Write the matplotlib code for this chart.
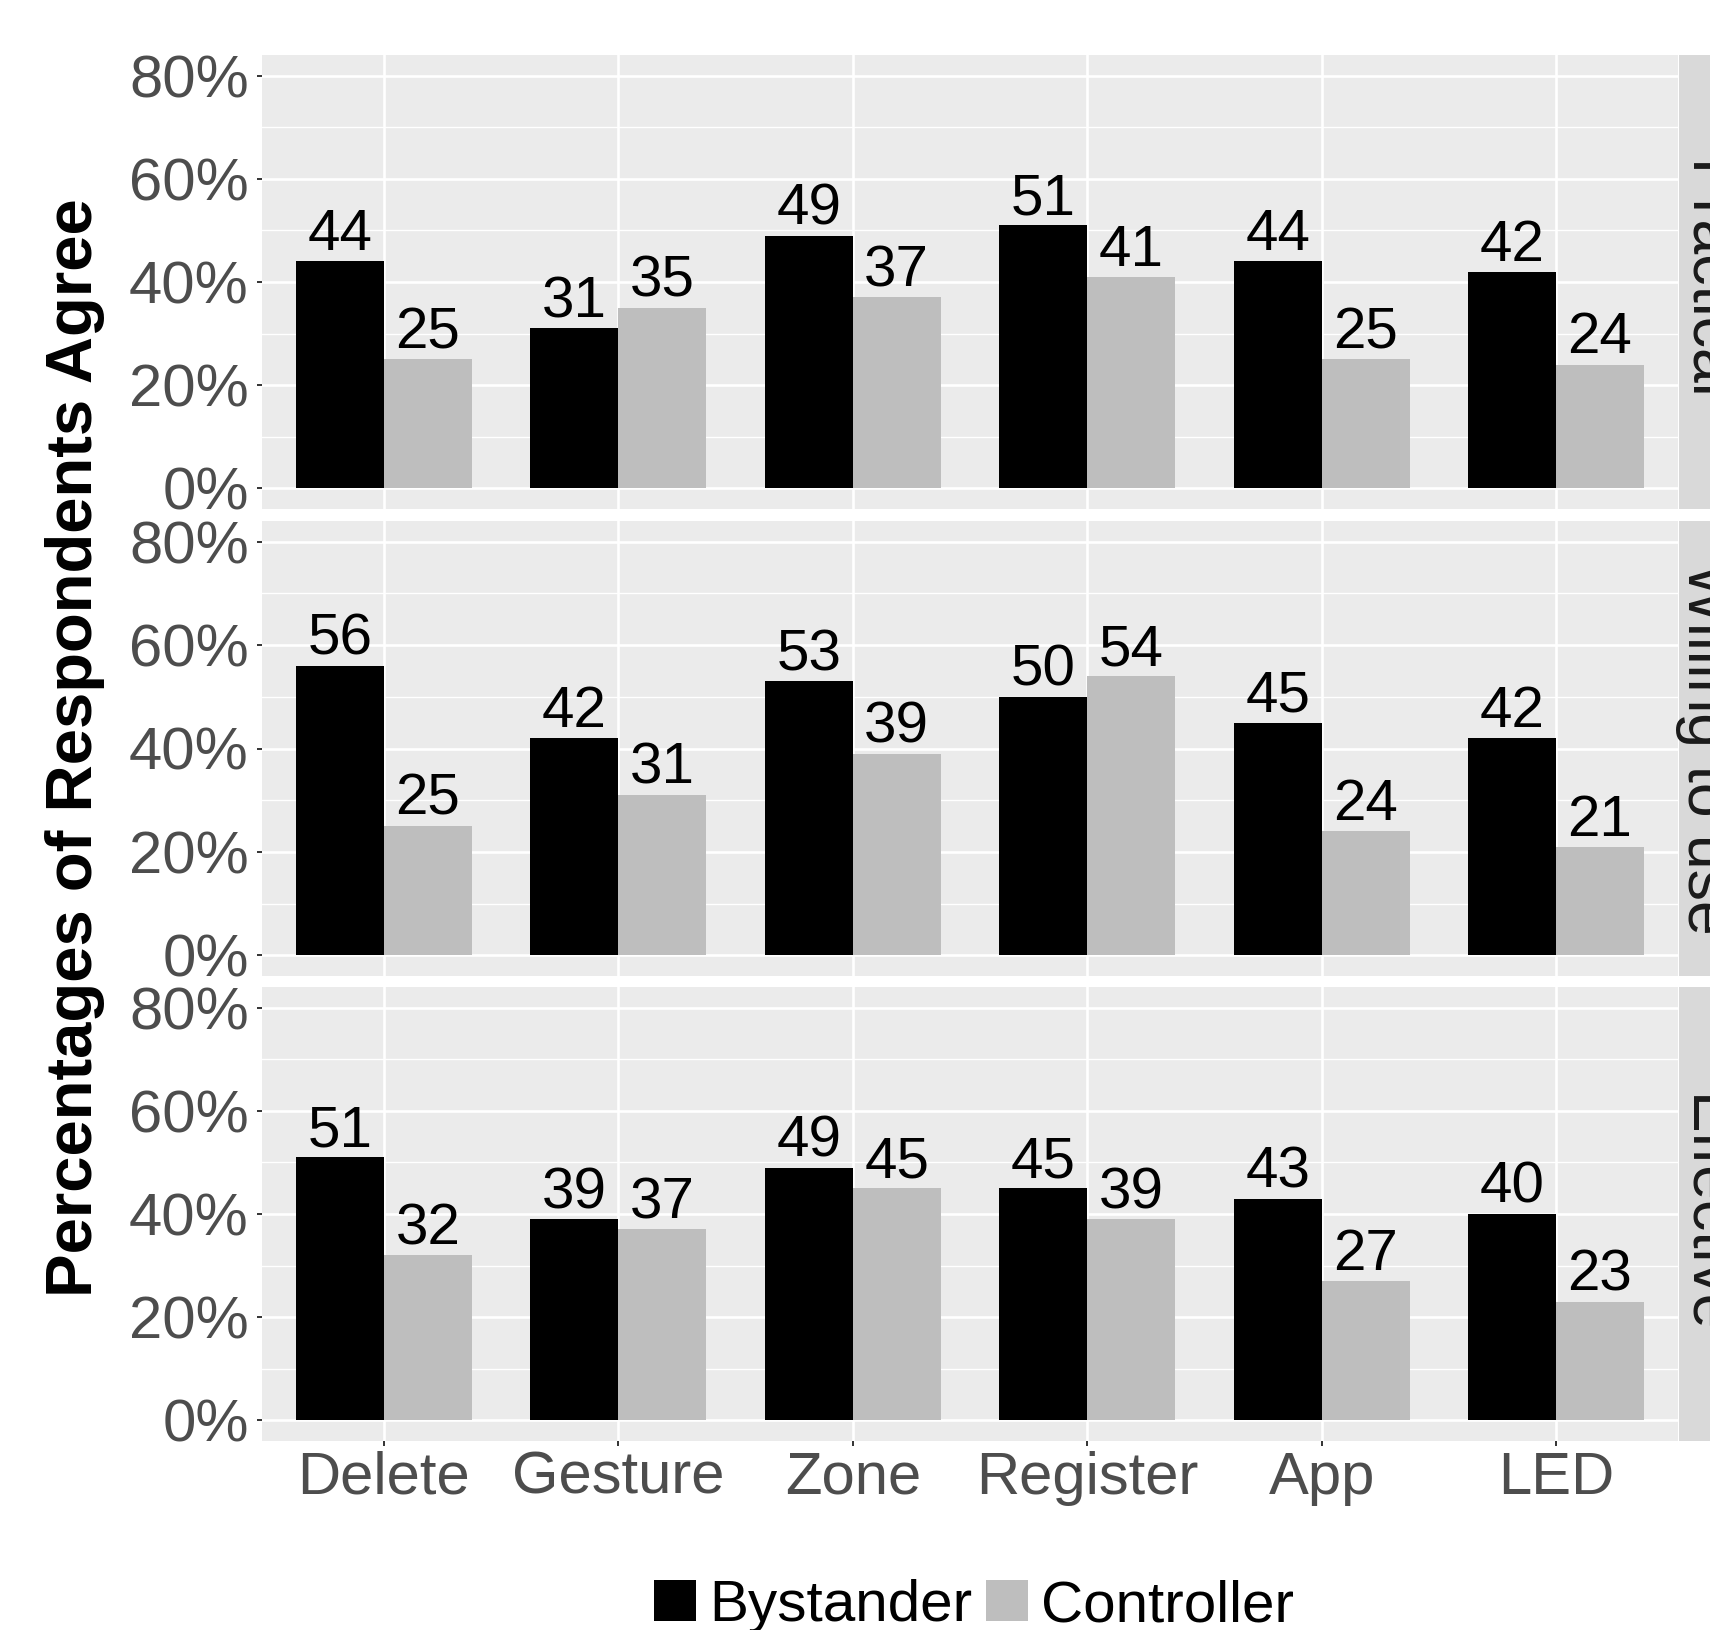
import numpy as np
import matplotlib.pyplot as plt
from matplotlib.patches import Patch

plt.rcParams['font.family'] = ['Liberation Sans', 'DejaVu Sans']

# ==========================================
# Data (percent of respondents who agree)
# ==========================================
categories = ['Delete', 'Gesture', 'Zone', 'Register', 'App', 'LED']
panels = ['Practical', 'Willing to use', 'Effective']

bystander_practical = [44, 31, 49, 51, 44, 42]
controller_practical = [25, 35, 37, 41, 25, 24]
bystander_willing = [56, 42, 53, 50, 45, 42]
controller_willing = [25, 31, 39, 54, 24, 21]
bystander_effective = [51, 39, 49, 45, 43, 40]
controller_effective = [32, 37, 45, 39, 27, 23]

bystander = [bystander_practical, bystander_willing, bystander_effective]
controller = [controller_practical, controller_willing, controller_effective]

y_ticks = [0, 20, 40, 60, 80]
y_tick_labels = ['0%', '20%', '40%', '60%', '80%']

# ==========================================
# Layout (pixels of a 1710x1630 canvas)
# ==========================================
W, H = 1710, 1630
panel_px = [(55, 509), (521, 976), (987, 1441)]
left, right = 262, 1678
strip_w = 75

BLACK = '#000000'
GRAY = '#BEBEBE'
PANEL_BG = '#EBEBEB'
STRIP_BG = '#D9D9D9'

fig = plt.figure(figsize=(W / 100, H / 100), dpi=100)

x = np.arange(len(categories))
w = 0.375

for i, (top, bottom) in enumerate(panel_px):
    ax = fig.add_axes([left / W, 1 - bottom / H, (right - left) / W, (bottom - top) / H])
    ax.set_facecolor(PANEL_BG)

    b1 = ax.bar(x - w / 2, bystander[i], w, color=BLACK, zorder=2)
    b2 = ax.bar(x + w / 2, controller[i], w, color=GRAY, zorder=2)

    # Value labels over each bar
    for bars, vals in ((b1, bystander[i]), (b2, controller[i])):
        for rect, v in zip(bars, vals):
            ax.annotate(str(v), (rect.get_x() + rect.get_width() / 2, v),
                        xytext=(0, 8), textcoords='offset points',
                        ha='center', va='baseline', fontsize=42, color='black')

    ax.set_xlim(-0.52, len(categories) - 0.48)
    ax.set_ylim(-4, 84)
    ax.set_yticks(y_ticks)
    ax.set_yticklabels(y_tick_labels)
    ax.set_yticks([10, 30, 50, 70], minor=True)
    ax.set_xticks(x)
    ax.set_xticklabels(categories)

    ax.set_axisbelow(True)
    ax.grid(which='major', color='white', linewidth=1.9)
    ax.grid(which='minor', axis='y', color='white', linewidth=1.0)
    for s in ax.spines.values():
        s.set_visible(False)

    ax.tick_params(which='major', length=3.6, width=1.4, color='#333333',
                   labelsize=43, labelcolor='#4D4D4D')
    ax.tick_params(which='minor', length=0)
    ax.tick_params(axis='y', pad=6)
    ax.tick_params(axis='x', pad=3.6)
    if i < len(panel_px) - 1:
        ax.tick_params(axis='x', length=0, labelbottom=False)

    # Facet strip on the right (cut off by the canvas edge, as in the source)
    sax = fig.add_axes([(right + 1) / W, 1 - bottom / H, strip_w / W, (bottom - top) / H])
    sax.set_facecolor(STRIP_BG)
    sax.set_xticks([])
    sax.set_yticks([])
    for s in sax.spines.values():
        s.set_visible(False)
    sax.text(-0.05, 0.5, panels[i], transform=sax.transAxes, rotation=-90,
             ha='left', va='center', fontsize=45, color='#1A1A1A', clip_on=False)

# Eje Y comun
fig.text(75 / W, 1 - 748 / H, 'Percentages of Respondents Agree', rotation=90,
         ha='center', va='center', fontsize=47, fontweight='bold', color='black')

# Leyenda inferior
handles = [Patch(facecolor=BLACK, edgecolor='none'), Patch(facecolor=GRAY, edgecolor='none')]
fig.legend(handles, ['Bystander', 'Controller'], ncol=2, frameon=False, fontsize=42,
           loc='center', bbox_to_anchor=(974 / W, 1 - 1606 / H),
           handlelength=0.72, handleheight=0.7, handletextpad=0.22,
           columnspacing=0.24, borderpad=0, borderaxespad=0)

fig.savefig('out.png', dpi=100)
